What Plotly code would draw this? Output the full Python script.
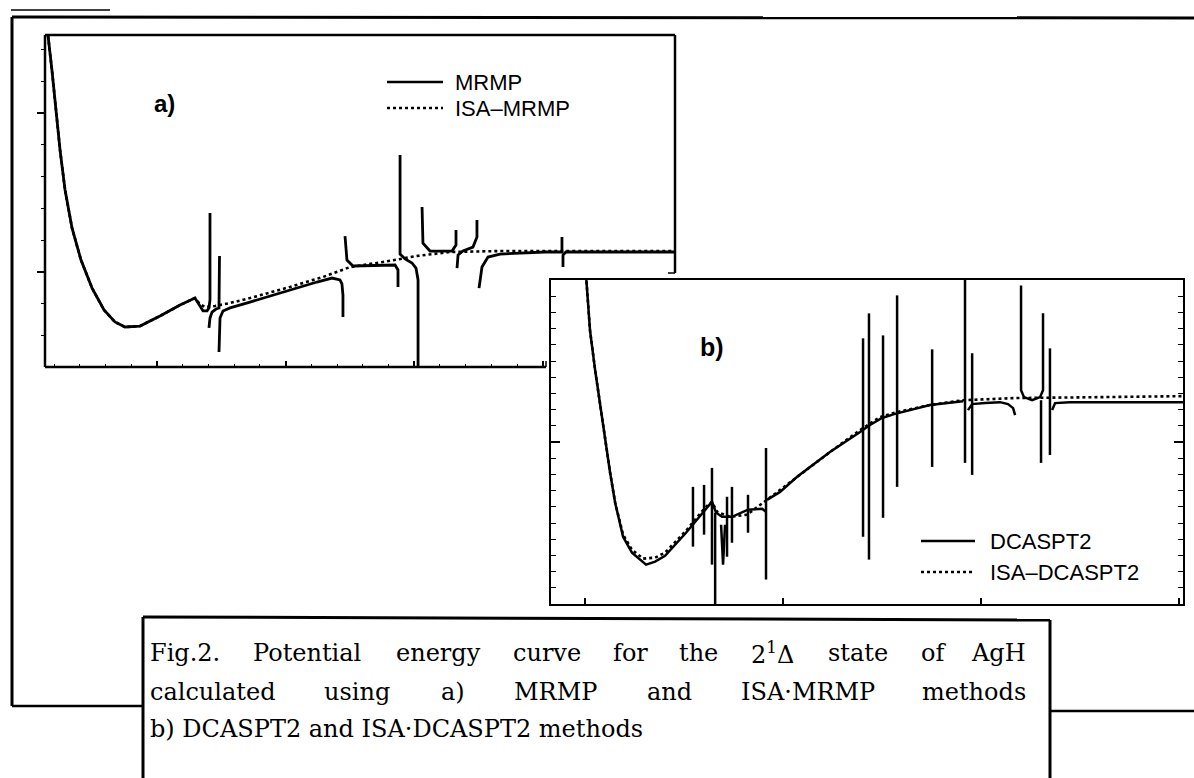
import plotly.graph_objects as go

W, H = 1194, 778

# ---------------- data (R in bohr-like units, E in eV-like units) ----------------
common_a_R = [1.140, 1.152, 1.183, 1.215, 1.246, 1.285, 1.339, 1.409, 1.495, 1.588,
              1.673, 1.751, 1.868, 2.023, 2.179, 2.295]
common_a_E = [2.560, 2.491, 2.270, 2.019, 1.767, 1.516, 1.277, 1.075, 0.899, 0.761,
              0.686, 0.654, 0.660, 0.723, 0.792, 0.836]

mrmp_R = [2.327, 2.358, 2.389, 2.404, 2.412, 2.412, None,
          2.404, 2.412, 2.428, 2.459, 2.482, 2.486, None,
          2.482, 2.490, 2.513, 2.568, 2.723, 2.980, 3.244, 3.361, 3.423, 3.438, 3.446, 3.446, None,
          3.462, 3.477, 3.524, 3.851, 3.874, 3.874, None,
          3.890, 3.890, 3.929, 3.983, 4.014, 4.030, 4.030, None,
          4.061, 4.068, 4.123, 4.294, 4.325, 4.325, None,
          4.333, 4.341, 4.379, 4.457, 4.488, 4.488, None,
          4.504, 4.527, 4.574, 4.667, 4.823, 5.017, 5.149, 5.149, None,
          5.157, 5.157, 5.180, 5.445, 6.028]
mrmp_E = [0.792, 0.755, 0.755, 0.774, 0.824, 1.371, None,
          0.648, 0.711, 0.748, 0.767, 0.774, 1.101, None,
          0.497, 0.711, 0.755, 0.774, 0.811, 0.874, 0.937, 0.962, 0.950, 0.925, 0.855, 0.717, None,
          1.226, 1.075, 1.038, 1.044, 1.013, 0.906, None,
          1.736, 1.113, 1.082, 1.057, 1.025, 0.950, 0.350, None,
          1.409, 1.182, 1.132, 1.132, 1.170, 1.264, None,
          1.025, 1.107, 1.132, 1.157, 1.220, 1.327, None,
          0.899, 1.031, 1.094, 1.113, 1.119, 1.126, 1.126, 1.220, None,
          1.031, 1.107, 1.126, 1.126, 1.126]

isa_mrmp_R = [2.334, 2.373, 2.451, 2.568, 2.723, 3.034, 3.291, 3.501, 3.757, 4.022,
              4.278, 4.667, 6.028]
isa_mrmp_E = [0.799, 0.780, 0.786, 0.805, 0.836, 0.906, 0.969, 1.031, 1.063, 1.101,
              1.126, 1.132, 1.132]

dcaspt2_R = [2.005, 2.025, 2.051, 2.076, 2.101, 2.126, 2.152, 2.192, 2.237, 2.293, 2.308,
             2.354, 2.404, 2.510, 2.606, 2.641, 2.662, 2.692, 2.742, 2.823, 2.894, 2.914, None,
             2.687, 2.697, 2.707, None,
             2.919, 2.985, 3.071, 3.237, 3.389, 3.439, 3.500, 3.561, 3.742, 3.909, None,
             3.934, 3.955, 4.020, 4.096, 4.136, 4.162, 4.172, None,
             4.202, 4.202, 4.217, 4.258, 4.298, 4.313, 4.313, None,
             4.359, 4.374, 4.449, 5.020]
dcaspt2_E = [2.028, 1.689, 1.443, 1.228, 1.031, 0.815, 0.625, 0.415, 0.317, 0.255, 0.243,
             0.262, 0.298, 0.440, 0.582, 0.631, 0.563, 0.538, 0.538, 0.582, 0.588, 0.569, None,
             0.489, 0.243, 0.489, None,
             0.643, 0.692, 0.785, 0.938, 1.062, 1.105, 1.148, 1.172, 1.228, 1.252, None,
             1.197, 1.234, 1.240, 1.246, 1.234, 1.209, 1.166, None,
             1.966, 1.320, 1.277, 1.258, 1.277, 1.320, 1.794, None,
             1.197, 1.240, 1.246, 1.246]

spike_R_b = [2.545, 2.601, 2.641, 2.657, 2.717, 2.742, 2.823, 2.914, 3.404, 3.434,
             3.505, 3.576, 3.753, 3.919, 3.955, 4.303, 4.348]
spike_top_b = [0.723, 0.735, 0.840, 0.563, 0.662, 0.723, 0.674, 0.963, 1.640, 1.794,
               1.658, 1.905, 1.572, 2.050, 1.548, 1.258, 1.578]
spike_bot_b = [0.354, 0.428, 0.243, -0.040, 0.292, 0.378, 0.440, 0.151, 0.415, 0.274,
               0.532, 0.723, 0.846, 0.871, 0.797, 0.871, 0.920]

isa_dcaspt2_R = [2.005, 2.025, 2.051, 2.076, 2.101, 2.126, 2.152, 2.192, 2.237, 2.293,
                 2.354, 2.404, 2.510, 2.606, 2.641, 2.667, 2.732, 2.818, 2.919, 3.071,
                 3.237, 3.389, 3.490, 3.576, 3.742, 3.909, 4.162, 4.601, 5.020]
isa_dcaspt2_E = [2.028, 1.689, 1.443, 1.228, 1.031, 0.815, 0.625, 0.428, 0.335, 0.280,
                 0.286, 0.317, 0.452, 0.594, 0.631, 0.569, 0.538, 0.551, 0.643, 0.785,
                 0.938, 1.074, 1.154, 1.185, 1.228, 1.258, 1.271, 1.277, 1.283]

legend_a = ["MRMP", "ISA\u2013MRMP"]
legend_b = ["DCASPT2", "ISA\u2013DCASPT2"]
caption_line1 = ["Fig.2.", "Potential", "energy", "curve", "for", "the",
                 "2<sup>1</sup>\u0394", "state", "of", "AgH"]
caption_line2 = ["calculated", "using", "a)", "MRMP", "and", "ISA\u00b7MRMP", "methods"]
caption_line3 = "b) DCASPT2 and ISA\u00b7DCASPT2 methods"

# ---------------- build series ----------------
a_solid_R = common_a_R + mrmp_R
a_solid_E = common_a_E + mrmp_E
a_dot_R = common_a_R + isa_mrmp_R
a_dot_E = common_a_E + isa_mrmp_E
b_solid_R = list(dcaspt2_R)
b_solid_E = list(dcaspt2_E)
for r, t, b in zip(spike_R_b, spike_top_b, spike_bot_b):
    b_solid_R += [None, r, r]
    b_solid_E += [None, t, b]

fig = go.Figure()
fig.add_trace(go.Scatter(x=a_solid_R, y=a_solid_E, mode="lines", name="MRMP",
                         line=dict(color="black", width=2.8), xaxis="x", yaxis="y",
                         showlegend=False, connectgaps=False))
fig.add_trace(go.Scatter(x=a_dot_R, y=a_dot_E, mode="lines", name="ISA-MRMP",
                         line=dict(color="black", width=2.6, dash="dot"), xaxis="x", yaxis="y",
                         showlegend=False))
fig.add_trace(go.Scatter(x=b_solid_R, y=b_solid_E, mode="lines", name="DCASPT2",
                         line=dict(color="black", width=2.5), xaxis="x2", yaxis="y2",
                         showlegend=False, connectgaps=False))
fig.add_trace(go.Scatter(x=isa_dcaspt2_R, y=isa_dcaspt2_E, mode="lines", name="ISA-DCASPT2",
                         line=dict(color="black", width=2.6, dash="dot"), xaxis="x2", yaxis="y2",
                         showlegend=False))


def px(x):
    return x / W


def py(y):
    return 1 - y / H


# panel geometry (pixels)
aL, aR, aT, aB = 45, 675, 35, 367
bL, bR, bT, bB = 551, 1183, 280, 604

a_major_x = [2, 3, 4, 5]
a_minor_x = [1.2, 1.4, 1.6, 1.8, 2.2, 2.4, 2.6, 2.8, 3.2, 3.4, 3.6, 3.8, 4.2, 4.4, 4.6, 4.8]
a_major_y = [1.0, 2.0]
a_minor_y = [0.6, 0.8, 1.2, 1.4, 1.6, 1.8, 2.2, 2.4]

fig.update_layout(
    width=W, height=H, margin=dict(l=0, r=0, t=0, b=0), autosize=False,
    paper_bgcolor="white", plot_bgcolor="rgba(0,0,0,0)",
    xaxis=dict(domain=[px(aL), px(aR)], range=[1.129, 6.028], anchor="y",
               showline=False, showgrid=False, zeroline=False, showticklabels=False,
               ticks="inside", tickmode="array", tickvals=a_major_x, ticklen=6, tickwidth=1.5,
               tickcolor="black",
               minor=dict(ticks="inside", tickmode="array", tickvals=a_minor_x, ticklen=3,
                          tickwidth=1.2, tickcolor="black", showgrid=False)),
    yaxis=dict(domain=[py(aB), py(aT)], range=[0.4025, 2.491], anchor="x",
               showline=False, showgrid=False, zeroline=False, showticklabels=False,
               ticks="outside", tickmode="array", tickvals=a_major_y, ticklen=7, tickwidth=1.5,
               tickcolor="black",
               minor=dict(ticks="outside", tickmode="array", tickvals=a_minor_y, ticklen=3,
                          tickwidth=1.2, tickcolor="black", showgrid=False)),
    xaxis2=dict(domain=[px(bL), px(bR)], range=[1.828, 5.020], anchor="y2",
                showline=True, linecolor="black", linewidth=2, mirror=True,
                showgrid=False, zeroline=False, showticklabels=False,
                ticks="inside", tickmode="array", tickvals=[2, 3, 4, 5], ticklen=6, tickwidth=1.5,
                tickcolor="black"),
    yaxis2=dict(domain=[py(bB), py(bT)], range=[0, 2], anchor="x2",
                showline=True, linecolor="black", linewidth=2, mirror="allticks",
                showgrid=False, zeroline=False, showticklabels=False,
                ticks="inside", tickmode="array", tickvals=[1.0], ticklen=9, tickwidth=1.5,
                tickcolor="black",
                minor=dict(ticks="inside", tickmode="array",
                           tickvals=[i / 10 for i in range(1, 20) if i != 10],
                           ticklen=5, tickwidth=1.2, tickcolor="black", showgrid=False)),
)

shapes = []


def line(x0, y0, x1, y1, w=2.5, dash=None):
    d = dict(type="line", xref="paper", yref="paper", x0=px(x0), y0=py(y0), x1=px(x1), y1=py(y1),
             line=dict(color="black", width=w))
    if dash:
        d["line"]["dash"] = dash
    shapes.append(d)


# outer frame pieces
line(11, 10, 110, 10, 1.5)
line(12, 17, W + 5, 18, 3)
line(12, 17, 12, 706, 3)
line(12, 706, 143, 706, 2.5)
line(1050, 711, W + 5, 711, 2.5)
# caption box
line(143, 617, 1050, 620, 3)
line(143, 617, 143, H + 10, 3)
line(1050, 620, 1050, H + 10, 3)
# panel a frame (visible parts only; panel b overlaps its lower right corner)
line(aL, aT, aR, aT, 2.5)
line(aL, aT, aL, aB, 2.5)
line(aL, aB, 546, aB, 2.5)
line(546, aB, 546, aB - 6, 1.5)
line(aR, aT, aR, 273, 2.5)
line(aR, 273, aR - 7, 273, 1.5)
# legend samples
line(387, 82, 443, 82, 2.6)
line(387, 108, 443, 108, 2.6, "dot")
line(921, 541, 975, 541, 2.6)
line(921, 572, 975, 572, 2.6, "dot")
fig.update_layout(shapes=shapes)

ann = []


def text(x, y, s, size, family="Liberation Sans", xanchor="left", bold=False):
    ann.append(dict(xref="paper", yref="paper", x=px(x), y=py(y),
                    text=("<b>%s</b>" % s) if bold else s,
                    showarrow=False, xanchor=xanchor, yanchor="middle",
                    font=dict(family=family, size=size, color="black")))


text(453, 82, legend_a[0], 22)
text(453, 108, legend_a[1], 22)
text(988, 541, legend_b[0], 22)
text(988, 572, legend_b[1], 22)
text(165, 104, "a)", 24, xanchor="center", bold=True)
text(712, 347, "b)", 25, xanchor="center", bold=True)

# caption: justified lines, words placed individually
serif = "DejaVu Serif"
CS = 24
l1_x = [148, 251, 394, 511, 611, 677, 749, 826, 919, 1028]
for i, (w, x) in enumerate(zip(caption_line1, l1_x)):
    text(x, 653, w, CS, serif, xanchor="right" if i == len(l1_x) - 1 else "left")
l2_x = [148, 322, 439, 512, 645, 739, 1028]
for i, (w, x) in enumerate(zip(caption_line2, l2_x)):
    text(x, 692, w, CS, serif, xanchor="right" if i == len(l2_x) - 1 else "left")
text(148, 729, caption_line3, CS, serif)

fig.update_layout(annotations=ann)

fig.write_html("out.html", include_plotlyjs=True, config={"displayModeBar": False},
               post_script="document.body.style.margin='0px';")
